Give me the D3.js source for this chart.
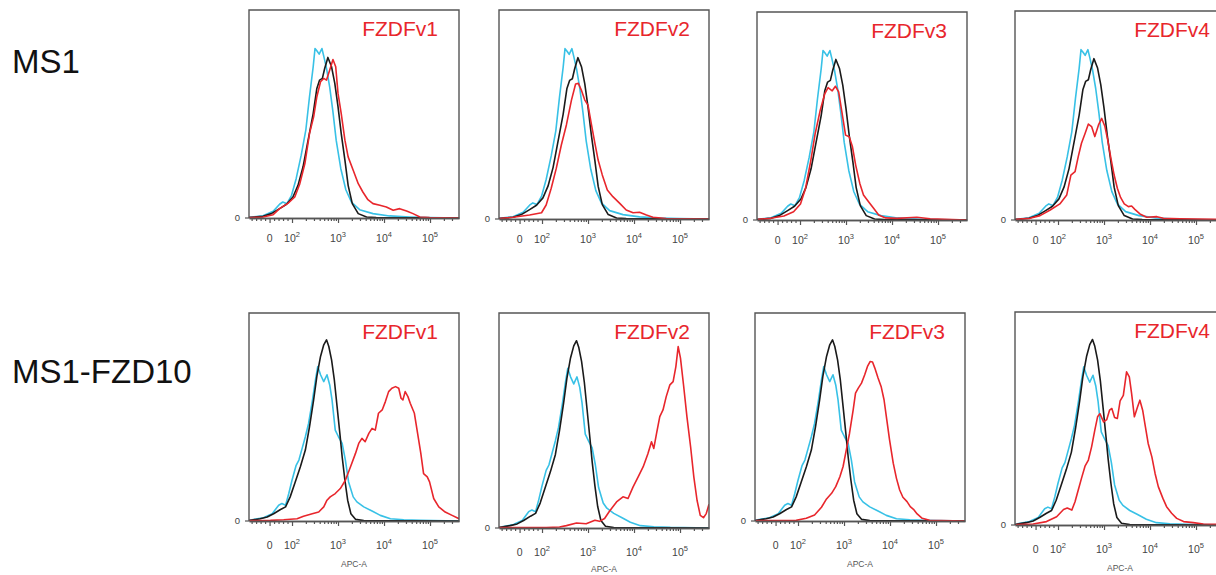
<!DOCTYPE html>
<html>
<head>
<meta charset="utf-8">
<script src="https://cdn.jsdelivr.net/npm/d3@7"></script>
<style>
  body { margin: 0; background: #fff; }
  svg { display: block; font-family: Arial, "Liberation Sans", sans-serif; }
</style>
</head>
<body>
<svg id="chart" width="1216" height="575"></svg>
<script>
// labels
var rowNames = ["MS1", "MS1-FZD10"];
var panelNames = ["FZDFv1", "FZDFv2", "FZDFv3", "FZDFv4"];
var xTickValues = [0, 1e2, 1e3, 1e4, 1e5];
var xTickBase = ["0", "10", "10", "10", "10"];
var xTickExp = ["", "2", "3", "4", "5"];
var xMinorValues = [-80, -60, -40, -20, 20, 40, 60, 80,
  200, 300, 400, 500, 600, 700, 800, 900,
  2000, 3000, 4000, 5000, 6000, 7000, 8000, 9000,
  2e4, 3e4, 4e4, 5e4, 6e4, 7e4, 8e4, 9e4, 2e5, 3e5];

// histograms: [display position on APC-A axis (decades), % of max]
var ms1Cyan = [[1.06,0.3],[1.37,1.1],[1.59,3.2],[1.73,6.6],[1.80,7.7],[1.89,6.9],[1.99,10.9],[2.09,18.9],[2.20,30.2],[2.30,42.2],[2.38,58.3],[2.46,72.7],[2.50,81.5],[2.54,80.4],[2.59,78.8],[2.65,81.5],[2.69,77.8],[2.75,71.9],[2.82,62.8],[2.89,51.0],[2.96,37.4],[3.06,23.8],[3.17,13.6],[3.29,7.7],[3.47,4.0],[3.76,2.1],[4.12,1.0],[4.56,0.5],[4.99,0.2],[5.63,0]];
var ms1Black = [[1.06,0.2],[1.37,0.8],[1.55,2.1],[1.73,4.5],[1.88,6.6],[2.02,10.1],[2.13,15.7],[2.24,24.6],[2.35,37.4],[2.46,50.2],[2.54,62.3],[2.60,66.3],[2.66,67.1],[2.71,71.9],[2.78,77.2],[2.86,72.7],[2.93,64.7],[3.00,53.5],[3.07,40.6],[3.15,27.8],[3.22,15.7],[3.31,6.9],[3.44,2.1],[3.62,0.5],[3.83,0.2],[5.63,0]];
var ms1Red1 = [[1.06,0.2],[1.37,0.5],[1.59,1.6],[1.73,4.5],[1.91,7.0],[2.06,10.1],[2.17,16.5],[2.28,26.2],[2.38,40.6],[2.47,48.6],[2.54,58.3],[2.62,65.5],[2.69,67.1],[2.75,66.3],[2.82,71.1],[2.89,76.2],[2.95,72.7],[3.00,59.9],[3.07,50.2],[3.15,37.4],[3.22,29.4],[3.33,23.0],[3.44,16.5],[3.54,12.5],[3.65,8.8],[3.76,6.9],[3.91,6.1],[4.05,5.3],[4.20,3.7],[4.34,4.5],[4.49,3.4],[4.63,2.1],[4.78,0.5],[4.99,0.2],[5.63,0]];
var ms1Red2 = [[1.06,0.2],[1.37,0.8],[1.73,1.9],[1.99,3.0],[2.09,6.7],[2.20,14.7],[2.31,24.2],[2.42,35.4],[2.53,45.0],[2.64,56.9],[2.73,64.6],[2.79,64.9],[2.86,61.4],[2.93,56.9],[3.00,54.5],[3.07,45.8],[3.15,36.2],[3.22,28.2],[3.31,21.1],[3.42,13.9],[3.54,10.7],[3.69,7.5],[3.83,4.3],[3.98,3.0],[4.12,3.2],[4.27,1.9],[4.41,0.8],[4.70,0.2],[5.63,0]];
var ms1Red3 = [[1.08,0.3],[1.36,0.8],[1.65,1.9],[1.86,4.0],[2.01,7.7],[2.12,15.2],[2.23,28.0],[2.33,41.6],[2.44,52.8],[2.54,60.8],[2.61,63.7],[2.70,62.1],[2.77,64.3],[2.84,61.6],[2.91,52.0],[2.99,40.8],[3.07,40.0],[3.14,35.2],[3.21,26.4],[3.30,17.6],[3.38,12.0],[3.49,8.8],[3.60,5.6],[3.71,2.4],[3.86,1.0],[4.11,0.8],[4.54,1.3],[4.83,0.6],[5.63,0]];
var ms1Red4 = [[1.08,0.3],[1.39,0.8],[1.61,2.1],[1.83,4.8],[2.04,7.7],[2.19,12.0],[2.28,21.5],[2.37,23.1],[2.44,30.3],[2.51,36.7],[2.59,41.5],[2.66,45.9],[2.73,44.7],[2.80,39.9],[2.88,45.5],[2.95,48.6],[3.02,44.7],[3.08,38.3],[3.15,29.5],[3.22,21.5],[3.29,15.2],[3.36,10.8],[3.44,7.7],[3.53,6.4],[3.60,6.7],[3.67,5.1],[3.78,2.9],[3.93,1.3],[4.15,1.6],[4.29,0.8],[4.65,0.6],[5.45,0.3],[5.63,0.2]];

var fzdCyan = [[1.06,0.3],[1.38,1.6],[1.57,3.5],[1.71,7.6],[1.78,8.4],[1.86,7.6],[1.93,13.2],[2.00,19.6],[2.09,26.8],[2.15,29.3],[2.22,34.9],[2.29,40.5],[2.36,46.9],[2.44,57.4],[2.51,67.8],[2.56,74.3],[2.62,70.3],[2.69,67.0],[2.76,70.3],[2.82,65.4],[2.87,58.2],[2.94,43.7],[3.01,40.5],[3.09,37.3],[3.16,29.3],[3.23,18.8],[3.33,11.6],[3.41,9.2],[3.56,6.8],[3.74,4.8],[3.92,2.7],[4.14,1.1],[4.43,0.6],[4.79,0.3],[5.63,0]];
var fzdBlack = [[1.06,0.2],[1.31,1.1],[1.46,1.9],[1.60,3.5],[1.75,5.5],[1.86,6.8],[1.96,11.6],[2.07,18.8],[2.18,26.0],[2.29,34.1],[2.38,45.3],[2.47,58.2],[2.54,69.5],[2.62,79.1],[2.69,84.7],[2.75,87.1],[2.80,83.9],[2.86,77.5],[2.92,67.8],[2.98,55.0],[3.04,42.1],[3.09,30.9],[3.15,19.6],[3.21,10.0],[3.28,3.5],[3.38,0.8],[3.56,0.2],[5.63,0]];
var fzdRed1 = [[1.06,0.2],[1.53,0.3],[1.82,0.6],[2.11,1.1],[2.25,2.3],[2.44,3.5],[2.58,4.3],[2.69,6.8],[2.76,10.0],[2.83,11.6],[2.94,13.2],[3.05,15.6],[3.16,19.6],[3.27,26.0],[3.38,32.5],[3.45,37.3],[3.52,39.7],[3.59,38.1],[3.67,42.1],[3.74,44.5],[3.81,43.7],[3.88,51.8],[3.96,53.4],[4.03,57.4],[4.10,62.2],[4.17,63.8],[4.25,64.6],[4.32,63.8],[4.37,59.0],[4.41,58.2],[4.46,62.2],[4.52,59.8],[4.57,56.6],[4.66,51.8],[4.73,42.1],[4.80,32.5],[4.86,22.8],[4.94,21.2],[4.99,18.8],[5.08,10.8],[5.19,6.8],[5.33,4.3],[5.48,2.7],[5.63,1.1]];
var fzdRed2 = [[1.06,0.2],[2.09,0.2],[2.38,0.5],[2.53,1.1],[2.75,2.3],[2.96,2.0],[3.15,3.6],[3.25,3.1],[3.36,4.4],[3.47,7.9],[3.62,12.1],[3.76,14.5],[3.87,13.7],[3.98,19.1],[4.09,23.8],[4.20,28.5],[4.30,34.4],[4.38,40.1],[4.43,37.0],[4.49,44.0],[4.56,51.8],[4.63,54.9],[4.70,61.1],[4.78,66.6],[4.85,68.1],[4.91,75.1],[4.96,84.4],[5.01,79.0],[5.08,65.8],[5.15,51.8],[5.23,37.8],[5.30,23.8],[5.37,12.9],[5.44,5.9],[5.51,4.8],[5.57,6.7],[5.63,11.0]];
var fzdRed3 = [[1.08,0.2],[1.60,0.2],[1.96,0.3],[2.18,1.3],[2.36,2.9],[2.51,6.6],[2.62,10.6],[2.73,13.3],[2.82,16.5],[2.91,21.3],[2.98,26.2],[3.05,34.2],[3.12,42.2],[3.20,53.5],[3.25,61.5],[3.31,63.9],[3.38,66.3],[3.45,70.3],[3.51,74.3],[3.57,76.7],[3.62,76.4],[3.67,73.5],[3.74,68.7],[3.81,64.4],[3.87,58.3],[3.93,48.6],[3.99,39.0],[4.07,27.8],[4.14,20.5],[4.21,14.9],[4.28,11.4],[4.37,9.3],[4.44,6.9],[4.51,5.6],[4.59,3.4],[4.70,1.3],[4.86,0.3],[5.63,0]];
var fzdRed4 = [[1.08,0.2],[1.46,0.5],[1.75,1.6],[1.97,3.9],[2.12,7.3],[2.20,8.0],[2.30,7.0],[2.37,10.9],[2.44,16.4],[2.51,21.9],[2.59,27.8],[2.66,30.5],[2.73,36.7],[2.80,44.5],[2.86,50.8],[2.91,52.3],[2.99,48.4],[3.06,49.5],[3.12,53.9],[3.17,54.7],[3.23,50.5],[3.29,50.0],[3.35,58.3],[3.42,60.9],[3.49,71.9],[3.55,69.5],[3.60,61.7],[3.66,50.8],[3.73,55.5],[3.78,58.6],[3.84,53.9],[3.90,46.1],[3.96,38.3],[4.04,32.0],[4.11,24.2],[4.18,18.0],[4.28,12.5],[4.36,8.6],[4.47,5.5],[4.58,3.1],[4.73,1.6],[4.94,1.1],[5.16,0.5],[5.45,0.3],[5.63,0.2]];

var ms1Reds = [ms1Red1, ms1Red2, ms1Red3, ms1Red4];
var fzdReds = [fzdRed1, fzdRed2, fzdRed3, fzdRed4];

// panel boxes (collage, slightly misaligned)
var panels = [
  {row: 0, col: 0, left: 249, top: 10, base: 218},
  {row: 0, col: 1, left: 499, top: 10, base: 219},
  {row: 0, col: 2, left: 757, top: 12, base: 220},
  {row: 0, col: 3, left: 1015, top: 11, base: 220},
  {row: 1, col: 0, left: 249, top: 313, base: 521},
  {row: 1, col: 1, left: 499, top: 313, base: 528},
  {row: 1, col: 2, left: 755, top: 313, base: 521},
  {row: 1, col: 3, left: 1015, top: 312, base: 525}
];
var titleEnd = [189, 191, 190, 195];
var tickLabelDy = [24, 28];

var W = 210;
var tMin = 1.065, tMax = 5.63;
var cyan = "#38c1e6", black = "#1a1a1a", red = "#e8262c", axisCol = "#555";

// biexponential-like display: linear below 100, log above
function tr(v) { return v >= 100 ? Math.log10(v) : 2 + (v - 100) / 205; }

var svg = d3.select("#chart");

svg.selectAll(".rowname")
    .data(rowNames)
  .enter().append("text")
    .attr("class", "rowname")
    .attr("x", 12)
    .attr("y", function(d, i) { return i == 0 ? 73 : 383; })
    .attr("font-size", 33)
    .attr("fill", "#111")
    .text(function(d) { return d; });

panels.forEach(function(p, i) {
  var h = p.base - p.top;
  var g = svg.append("g").attr("transform", "translate(" + p.left + "," + p.top + ")");

  var x = d3.scaleLinear().domain([tMin, tMax]).range([0, W]);
  var y = d3.scaleLinear().domain([0, 100]).range([h, 0]);

  g.append("clipPath").attr("id", "clip" + i)
    .append("rect").attr("x", 0).attr("y", -2).attr("width", W).attr("height", h + 2);

  var line = d3.line()
      .x(function(d) { return x(d[0]); })
      .y(function(d) { return y(d[1]); });

  var series = p.row == 0
    ? [[ms1Cyan, cyan], [ms1Black, black], [ms1Reds[p.col], red]]
    : [[fzdCyan, cyan], [fzdBlack, black], [fzdReds[p.col], red]];

  g.append("g").attr("clip-path", "url(#clip" + i + ")")
    .selectAll("path")
      .data(series)
    .enter().append("path")
      .attr("d", function(d) { return line(d[0]); })
      .attr("fill", "none")
      .attr("stroke", function(d) { return d[1]; })
      .attr("stroke-width", 1.6)
      .attr("stroke-linejoin", "round");

  // box
  g.append("path")
      .attr("d", "M0," + h + "V0H" + W + "V" + h)
      .attr("fill", "none")
      .attr("stroke", axisCol)
      .attr("stroke-width", 1.4);

  // x axis: minor and major ticks
  var ax = g.append("g").attr("transform", "translate(0," + h + ")");
  ax.append("g")
      .call(d3.axisBottom(x).tickValues(xMinorValues.map(tr).filter(function(t) { return t > tMin && t < tMax; }))
        .tickSize(3).tickSizeOuter(0).tickFormat(""));
  ax.append("g")
      .call(d3.axisBottom(x).tickValues(xTickValues.map(tr)).tickSize(5).tickSizeOuter(0).tickFormat(""));
  ax.selectAll("path, line").attr("stroke", axisCol).attr("stroke-width", 1.2);
  ax.selectAll(".domain").attr("stroke-width", 1.5);

  var lab = ax.selectAll(".xlab")
      .data(xTickValues)
    .enter().append("text")
      .attr("class", "xlab")
      .attr("x", function(d) { return x(tr(d)); })
      .attr("y", tickLabelDy[p.row])
      .attr("text-anchor", "middle")
      .attr("font-size", 10.5)
      .attr("fill", "#444");
  lab.append("tspan").text(function(d, j) { return xTickBase[j]; });
  lab.append("tspan")
      .attr("dy", -5)
      .attr("font-size", 7.5)
      .text(function(d, j) { return xTickExp[j]; });

  // y zero
  g.append("line").attr("x1", -4).attr("x2", 0).attr("y1", h).attr("y2", h)
      .attr("stroke", axisCol).attr("stroke-width", 1.2);
  g.append("text")
      .attr("x", -9).attr("y", h + 3)
      .attr("text-anchor", "end")
      .attr("font-size", 9.5)
      .attr("fill", "#444")
      .text("0");

  if (p.row == 1) {
    g.append("text")
        .attr("x", W / 2).attr("y", Math.min(h + 46, 572 - p.top))
        .attr("text-anchor", "middle")
        .attr("font-size", 8.5)
        .attr("fill", "#555")
        .text("APC-A");
  }

  g.append("text")
      .attr("x", titleEnd[p.col]).attr("y", 26)
      .attr("text-anchor", "end")
      .attr("font-size", 21)
      .attr("fill", red)
      .text(panelNames[p.col]);
});
</script>
</body>
</html>
